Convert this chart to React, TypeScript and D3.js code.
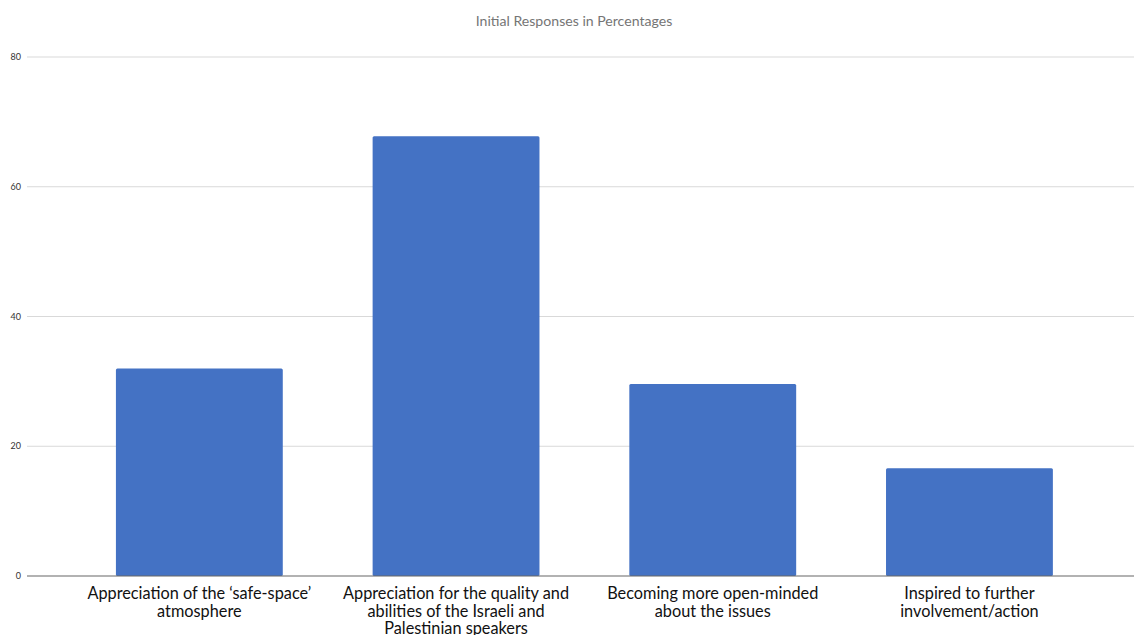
import React from "react";
import * as d3 from "d3";

const categories: string[][] = [
  ["Appreciation of the ‘safe-space’", "atmosphere"],
  ["Appreciation for the quality and", "abilities of the Israeli and", "Palestinian speakers"],
  ["Becoming more open-minded", "about the issues"],
  ["Inspired to further", "involvement/action"],
];
const values: number[] = [32, 67.8, 29.6, 16.6];
const yTicks: number[] = [0, 20, 40, 60, 80];
const title = "Initial Responses in Percentages";

const W = 1134;
const H = 635;

export default function App() {
  const x = d3
    .scaleBand<number>()
    .domain(categories.map((_, i) => i))
    .range([71, 1097.8])
    .paddingInner(0.35)
    .paddingOuter(0.175);
  const y = d3.scaleLinear().domain([0, 80]).range([576, 57]);

  return (
    <svg
      width={W}
      height={H}
      style={{ position: "absolute", left: 0, top: 0, background: "#fff" }}
      fontFamily="Lato, 'Open Sans', sans-serif"
    >
      <text x={574} y={26} textAnchor="middle" fontSize={14.1} fill="#757575">
        {title}
      </text>
      {yTicks.map((t) => (
        <g key={t}>
          {t !== 0 && (
            <line x1={27} x2={W} y1={y(t)} y2={y(t)} stroke="#d9d9d9" strokeWidth={1} />
          )}
          <text x={21} y={y(t) + 3} textAnchor="end" fontSize={9} fill="#333">
            {t}
          </text>
        </g>
      ))}
      {values.map((v, i) => (
        <rect
          key={i}
          x={x(i)}
          y={y(v)}
          width={x.bandwidth()}
          height={y(0) - y(v)}
          fill="#4472C4"
          rx={1.5}
        />
      ))}
      <line x1={27} x2={W} y1={y(0)} y2={y(0)} stroke="#666" strokeWidth={1.2} />
      {categories.map((lines, i) => (
        <text
          key={i}
          x={(x(i) as number) + x.bandwidth() / 2}
          textAnchor="middle"
          fontSize={16.3}
          fill="#111"
        >
          {lines.map((l, j) => (
            <tspan key={j} x={(x(i) as number) + x.bandwidth() / 2} y={599 + j * 17.5}>
              {l}
            </tspan>
          ))}
        </text>
      ))}
    </svg>
  );
}
